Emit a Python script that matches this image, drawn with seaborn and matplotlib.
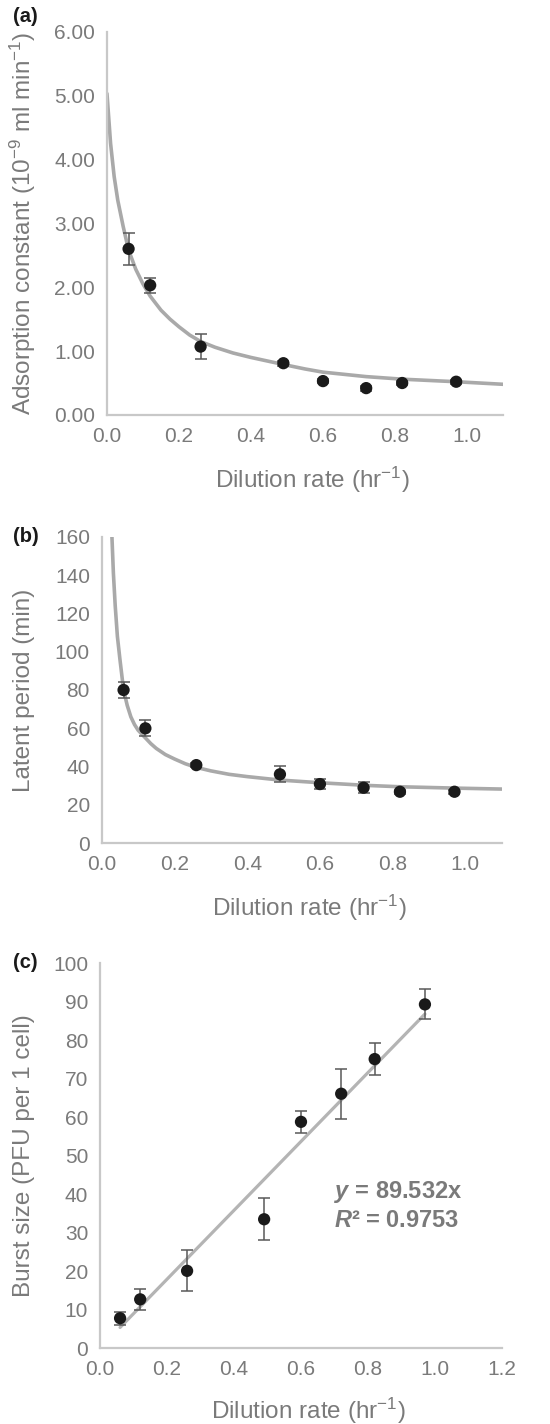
import seaborn as sns
import pandas as pd
import numpy as np
import matplotlib.pyplot as plt

sns.set_style('white')
plt.rcParams['font.family'] = ['Liberation Sans', 'DejaVu Sans']
plt.rcParams['mathtext.fontset'] = 'custom'
plt.rcParams['mathtext.rm'] = 'Liberation Sans'
plt.rcParams['mathtext.it'] = 'Liberation Sans:italic'
plt.rcParams['mathtext.bf'] = 'Liberation Sans:bold'
plt.rcParams['mathtext.bfit'] = 'Liberation Sans:italic:bold'
plt.rcParams['mathtext.default'] = 'regular'

# dilution rates (hr^-1)
dilution = [0.06, 0.12, 0.26, 0.49, 0.60, 0.72, 0.82, 0.97]

# (a) adsorption constant
adsorption = [2.60, 2.03, 1.07, 0.81, 0.53, 0.42, 0.50, 0.52]
adsorption_err = [0.25, 0.12, 0.19, 0.04, 0.03, 0.04, 0.03, 0.03]
curve_a_x = [0.0, 0.01, 0.02, 0.03, 0.045, 0.06, 0.08, 0.10, 0.12, 0.15, 0.175,
             0.20, 0.23, 0.26, 0.30, 0.35, 0.40, 0.49, 0.55, 0.60, 0.72, 0.82,
             0.97, 1.10]
curve_a_y = [5.03, 4.25, 3.73, 3.36, 2.95, 2.58, 2.28, 2.05, 1.86, 1.64, 1.50,
             1.38, 1.25, 1.15, 1.06, 0.97, 0.90, 0.79, 0.72, 0.67, 0.60, 0.56,
             0.52, 0.48]

# (b) latent period
latent = [80.0, 60.0, 40.8, 36.0, 30.9, 29.0, 26.9, 26.9]
latent_err = [4.0, 4.2, 1.0, 4.2, 2.7, 3.0, 1.0, 1.0]
curve_b_x = [0.028, 0.032, 0.037, 0.043, 0.05, 0.06, 0.07, 0.08, 0.09, 0.10,
             0.12, 0.135, 0.15, 0.175, 0.20, 0.23, 0.26, 0.30, 0.35, 0.40,
             0.49, 0.60, 0.73, 0.82, 0.97, 1.10]
curve_b_y = [160, 141, 124, 108, 96, 80, 72.0, 66.0, 62.0, 59.0,
             55.0, 52.0, 49.5, 46.3, 44.0, 41.5, 39.6, 37.8, 36.0, 34.8,
             33.0, 31.6, 30.2, 29.5, 28.8, 28.3]

# (c) burst size
burst = [7.8, 12.7, 20.1, 33.5, 58.8, 66.1, 75.1, 89.3]
burst_err = [1.7, 2.8, 5.3, 5.5, 2.9, 6.5, 4.1, 3.9]
trend_x = [0.06, 0.97]
trend_y = [5.4, 86.8]

grey_text = '#7a7a7a'
spine_col = '#c8c8c8'
curve_col = '#a9a9a9'

df_a = pd.DataFrame({'x': dilution, 'y': adsorption, 'err': adsorption_err})
df_b = pd.DataFrame({'x': dilution, 'y': latent, 'err': latent_err})
df_c = pd.DataFrame({'x': dilution, 'y': burst, 'err': burst_err})

fig = plt.figure(figsize=(5.5, 14.24), dpi=100)
ax_a = fig.add_axes([0.1945, 0.7086, 0.72, 0.2692])
ax_b = fig.add_axes([0.185, 0.4078, 0.7273, 0.2153])
ax_c = fig.add_axes([0.1818, 0.0532, 0.7309, 0.2704])


def draw_panel(ax, df, cx, cy, line_col, line_w):
    sns.lineplot(x=cx, y=cy, ax=ax, color=line_col, linewidth=line_w,
                 sort=False, estimator=None, zorder=2)
    ax.errorbar(df['x'], df['y'], yerr=df['err'], fmt='none', ecolor='#595959',
                elinewidth=1.1, capsize=4.3, capthick=1.1, zorder=3)
    sns.scatterplot(data=df, x='x', y='y', ax=ax, color='#1a1a1a', s=78,
                    edgecolor='none', zorder=4)


def style_axes(ax, xlim, xticks, ylim, yticks, yfmt, ylabel, ylab_x, xlab_x, xlab_y):
    ax.set_xlim(*xlim)
    ax.set_ylim(*ylim)
    ax.set_xticks(xticks)
    ax.set_xticklabels(['%.1f' % t for t in xticks])
    ax.set_yticks(yticks)
    ax.set_yticklabels([yfmt % t for t in yticks])
    ax.tick_params(length=0, labelsize=15, labelcolor=grey_text, pad=8.5)
    for s in ['top', 'right']:
        ax.spines[s].set_visible(False)
    for s in ['left', 'bottom']:
        ax.spines[s].set_color(spine_col)
        ax.spines[s].set_linewidth(1.6)
    ax.set_xlabel(r'Dilution rate (hr$^{-1}$)', fontsize=17.5, color=grey_text)
    ax.set_ylabel(ylabel, fontsize=17.5, color=grey_text)
    ax.yaxis.set_label_coords(ylab_x, 0.5)
    ax.xaxis.set_label_coords(xlab_x, xlab_y)


draw_panel(ax_a, df_a, curve_a_x, curve_a_y, curve_col, 2.6)
style_axes(ax_a, (0, 1.1), np.arange(0, 1.01, 0.2), (0, 6), np.arange(0, 6.01, 1),
           '%.2f', r'Adsorption constant (10$^{-9}$ ml min$^{-1}$)',
           -0.174, 0.518, -0.13)

draw_panel(ax_b, df_b, curve_b_x, curve_b_y, curve_col, 2.6)
style_axes(ax_b, (0, 1.1), np.arange(0, 1.01, 0.2), (0, 160), np.arange(0, 161, 20),
           '%d', 'Latent period (min)', -0.167, 0.518, -0.162)

draw_panel(ax_c, df_c, trend_x, trend_y, '#b4b4b4', 2.3)
style_axes(ax_c, (0, 1.2), np.arange(0, 1.21, 0.2), (0, 100), np.arange(0, 101, 10),
           '%d', 'Burst size (PFU per 1 cell)', -0.161, 0.519, -0.124)

ax_c.text(0.70, 40.7, r'$\mathbfit{y}$ = 89.532x', fontsize=17, fontweight='bold',
          color=grey_text, ha='left', va='center')
ax_c.text(0.70, 33.3, r'$\mathbfit{R}$² = 0.9753', fontsize=17, fontweight='bold',
          color=grey_text, ha='left', va='center')

for lab, yc in [('(a)', 17), ('(b)', 536.7), ('(c)', 963)]:
    fig.text(13 / 550, 1 - yc / 1424, lab, fontsize=14.5, fontweight='bold',
             color='#1a1a1a', ha='left', va='center')

fig.savefig('out.png', dpi=100)
